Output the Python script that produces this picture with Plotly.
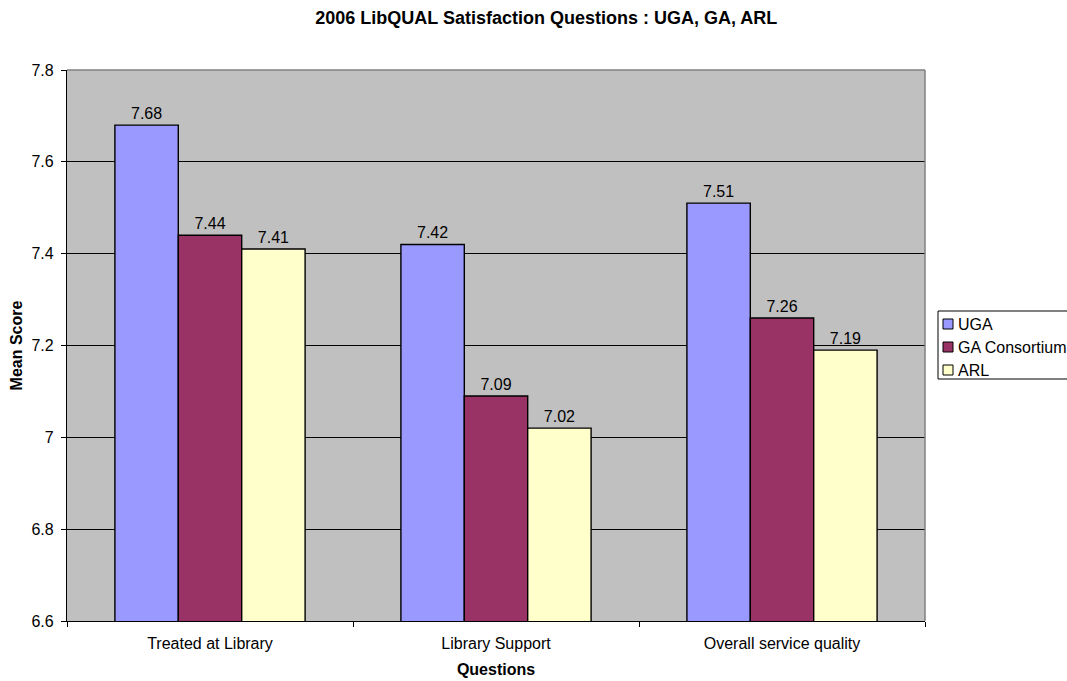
import plotly.graph_objects as go

categories = ["Treated at Library", "Library Support", "Overall service quality"]
uga = [7.68, 7.42, 7.51]
ga = [7.44, 7.09, 7.26]
arl = [7.41, 7.02, 7.19]
series_names = ["UGA", "GA Consortium", "ARL"]
colors = ["#9999FF", "#993366", "#FFFFCC"]

FONT = "Liberation Sans, Arial, sans-serif"
W, H = 1067, 681
L, R, T, B = 67, 925, 70, 621


def px_x(px):
    return (px - L) / (R - L)


def px_y(py):
    return (B - py) / (B - T)


fig = go.Figure()
for name, vals, col in zip(series_names, [uga, ga, arl], colors):
    fig.add_trace(go.Bar(
        x=categories, y=vals, name=name,
        marker=dict(color=col, line=dict(color="black", width=1.4)),
        text=[f"{v:.2f}" for v in vals], textposition="outside",
        textfont=dict(size=16, color="black", family=FONT),
        cliponaxis=False, showlegend=False,
    ))

# grey plot-area border on top and right
shapes = [
    dict(type="line", xref="paper", yref="paper", x0=0, x1=1, y0=1, y1=1,
         line=dict(color="#808080", width=1.5), layer="above"),
    dict(type="line", xref="paper", yref="paper", x0=1, x1=1, y0=0, y1=1,
         line=dict(color="#808080", width=1.5), layer="above"),
]
# manual legend (box clipped at right edge like the reference)
shapes.append(dict(type="rect", xref="paper", yref="paper",
                   x0=px_x(938), x1=px_x(1090), y0=px_y(379), y1=px_y(311),
                   line=dict(color="black", width=1), fillcolor="white", layer="above"))
annotations = []
for i, (name, col) in enumerate(zip(series_names, colors)):
    cy = 324 + i * 23
    shapes.append(dict(type="rect", xref="paper", yref="paper",
                       x0=px_x(943), x1=px_x(953), y0=px_y(cy + 5), y1=px_y(cy - 5),
                       line=dict(color="black", width=1), fillcolor=col, layer="above"))
    annotations.append(dict(text=name, xref="paper", yref="paper",
                            x=px_x(956), y=px_y(cy), xanchor="left", yanchor="middle",
                            showarrow=False, font=dict(size=16, family=FONT, color="black")))

fig.update_layout(
    width=W, height=H,
    margin=dict(l=L, r=W - R, t=T, b=H - B, autoexpand=False),
    paper_bgcolor="white", plot_bgcolor="#C0C0C0",
    barmode="group", bargap=0.335, bargroupgap=0,
    font=dict(family=FONT, size=16, color="black"),
    title=dict(text="<b>2006 LibQUAL Satisfaction Questions : UGA, GA, ARL</b>",
               x=0.512, xanchor="center", y=1 - 18 / H, yanchor="middle",
               font=dict(size=18, family=FONT)),
    showlegend=False,
    shapes=shapes,
    annotations=annotations,
)
fig.update_xaxes(
    showline=True, linecolor="black", linewidth=1.2,
    ticks="outside", tickson="boundaries", ticklen=5, tickcolor="black",
    ticklabelstandoff=8,
    title=dict(text="<b>Questions</b>", font=dict(size=16, family=FONT), standoff=12),
    tickfont=dict(size=16, family=FONT),
    showgrid=False, automargin=False,
)
fig.update_yaxes(
    range=[6.6, 7.8], dtick=0.2, tick0=6.6,
    showline=True, linecolor="black", linewidth=1.2,
    ticks="outside", ticklen=5, tickcolor="black",
    ticklabelstandoff=4,
    showgrid=True, gridcolor="black", gridwidth=1,
    title=dict(text="<b>Mean Score</b>", font=dict(size=16, family=FONT), standoff=4),
    tickfont=dict(size=16, family=FONT),
    zeroline=False, automargin=False,
)

fig.write_html("out.html")
